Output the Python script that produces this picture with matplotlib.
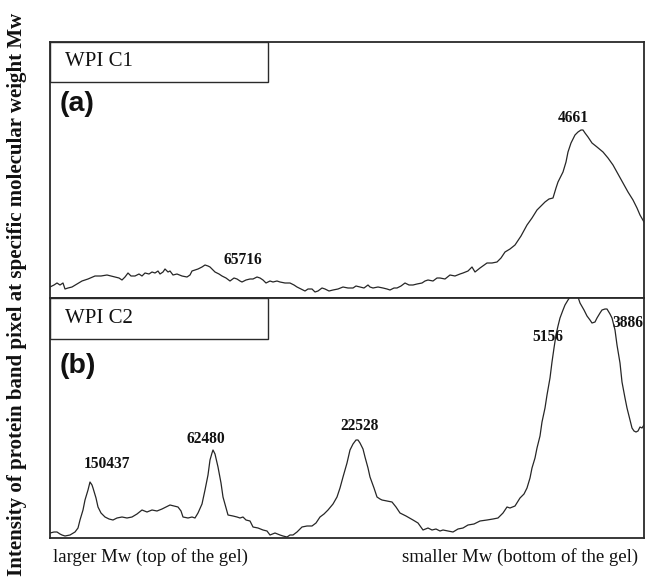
import matplotlib
matplotlib.use("Agg")
import matplotlib.pyplot as plt
from matplotlib.patches import Rectangle

# Densitometric profiles: migration distance along the lane (px) vs pixel intensity
pos_a = [0, 4, 7, 10, 13, 15, 18, 22, 27, 32, 38, 45, 51, 57, 61, 65, 69, 72, 75, 78, 81, 85, 89, 92, 95,
         99, 102, 105, 108, 110, 113, 115, 118, 120, 123, 127, 132, 137, 140, 142, 145, 148, 152, 155,
         158, 160, 163, 165, 169, 172, 176, 180, 184, 187, 190, 192, 196, 200, 203, 207, 210, 213, 216,
         220, 223, 227, 230, 235, 240, 244, 247, 251, 255, 258, 262, 265, 268, 272, 275, 279, 283, 288,
         293, 298, 303, 306, 310, 314, 318, 320, 323, 328, 333, 337, 340, 344, 347, 351, 355, 359, 363,
         367, 372, 375, 378, 383, 387, 390, 395, 400, 405, 410, 413, 418, 422, 425, 430, 437, 442, 447,
         451, 455, 460, 465, 471, 477, 482, 487, 491, 495, 499, 503, 506, 508, 511, 513, 516, 518, 521,
         525, 528, 531, 533, 535, 538, 542, 547, 553, 558, 563, 568, 573, 578, 583, 587, 590, 594]
int_a = [11, 13, 15, 13, 15, 9, 10, 11, 14, 17, 19, 22, 22, 23, 22, 21, 20, 18, 21, 25, 22, 22, 24, 22, 25,
         24, 26, 25, 27, 24, 26, 29, 26, 27, 23, 24, 22, 21, 23, 27, 28, 29, 31, 33,
         32, 31, 28, 26, 24, 22, 20, 17, 20, 19, 17, 16, 18, 19, 19, 21, 20, 18, 15,
         17, 16, 17, 16, 15, 15, 13, 11, 9, 7, 9, 9, 6, 7, 10, 9, 7, 8, 9,
         11, 10, 10, 12, 11, 10, 13, 11, 10, 11, 10, 9, 8, 10, 10, 12, 15, 13, 13,
         14, 15, 17, 18, 17, 20, 20, 19, 23, 22, 24, 25, 27, 31, 26, 30, 35, 35, 36,
         40, 46, 49, 53, 62, 73, 80, 88, 92, 96, 99, 100, 110, 116, 122, 126, 136, 146, 155,
         163, 166, 168, 168, 165, 161, 155, 151, 146, 140, 133, 124, 115, 106, 98, 90, 83, 76]

pos_b = [0, 4, 7, 10, 12, 15, 20, 25, 28, 30, 33, 35, 38, 40, 42, 43, 46, 48, 51, 55, 59, 63, 67, 72,
         77, 82, 87, 92, 97, 102, 107, 112, 116, 120, 124, 128, 131, 133, 138, 142, 145, 148, 152, 155,
         158, 160, 162, 163, 165, 168, 171, 173, 176, 178, 183, 187, 190, 193, 196, 200, 203, 208, 213,
         217, 220, 225, 230, 233, 237, 240, 243, 247, 252, 257, 262, 266, 270, 274, 278, 283, 287, 290,
         293, 297, 300, 303, 306, 308, 310, 313, 315, 318, 320, 324, 327, 330, 332, 337, 342, 346, 350,
         356, 363, 368, 373, 378, 382, 386, 390, 393, 398, 403, 408, 413, 418, 424, 430, 437, 443, 448,
         453, 457, 460, 465, 470, 474, 477, 480, 482, 485, 487, 490, 492, 495, 497, 500, 502, 504, 506,
         508, 510, 513, 515, 518, 520, 525, 528, 530, 534, 537, 540, 542, 545, 547, 550, 552, 555, 557,
         560, 562, 565, 567, 570, 572, 575, 577, 580, 582, 584, 586, 588, 590, 592, 594]
int_b = [5, 6, 6, 4, 3, 2, 3, 6, 10, 18, 28, 38, 48, 56, 53, 50, 40, 31, 25, 21, 19, 18, 20, 21,
         20, 21, 24, 28, 26, 28, 27, 29, 31, 33, 32, 31, 27, 21, 20, 21, 20, 25, 34, 48,
         63, 78, 85, 88, 84, 71, 55, 41, 30, 23, 22, 21, 20, 21, 18, 17, 11, 10, 8,
         7, 3, 5, 3, 2, 1, 3, 3, 6, 11, 12, 12, 15, 21, 24, 28, 34, 41, 50,
         61, 75, 88, 94, 98, 98, 95, 89, 81, 70, 61, 50, 41, 39, 38, 37, 36, 31, 25,
         22, 18, 15, 8, 10, 8, 9, 7, 8, 7, 6, 9, 10, 13, 14, 17, 18, 19, 20,
         25, 31, 30, 32, 40, 44, 50, 60, 70, 80, 90, 102, 116, 130, 143, 160, 176, 190, 203,
         212, 220, 228, 233, 238, 241, 243, 241, 235, 228, 222, 218, 215, 216, 220, 225, 228, 229, 229,
         224, 220, 208, 193, 175, 156, 140, 130, 118, 110, 107, 106, 107, 111, 110, 113]

peaks_a = ["65716", "4661"]
peak_pos_a = [193, 523]
peak_lab_a = [38, 180]
peaks_b = ["150437", "62480", "22528", "5156", "3886"]
peak_pos_b = [57, 156, 310, 498, 578]
peak_lab_b = [74, 99, 112, 201, 215]

W, H = 655, 583
fig = plt.figure(figsize=(W / 100, H / 100), dpi=100)

serif = ["Liberation Serif", "DejaVu Serif"]
sans = ["Liberation Sans", "DejaVu Sans"]

def make_axes(top_px, bot_px):
    ax = fig.add_axes([50 / W, (H - bot_px) / H, (644 - 50) / W, (bot_px - top_px) / H])
    ax.set_xticks([])
    ax.set_yticks([])
    for s in ax.spines.values():
        s.set_color("#2a2a2a")
        s.set_linewidth(1.3)
    return ax

ax_a = make_axes(42, 298)
ax_b = make_axes(298, 538)

ax_a.plot(pos_a, int_a, color="#262626", lw=0.9)
ax_a.set_xlim(0, 594)
ax_a.set_ylim(0, 256)
ax_b.plot(pos_b, int_b, color="#262626", lw=0.9)
ax_b.set_xlim(0, 594)
ax_b.set_ylim(0, 240)

for lab, px, py in zip(peaks_a, peak_pos_a, peak_lab_a):
    ax_a.text(px, py, lab, ha="center", va="center", fontsize=11.2, fontweight="bold",
              family=serif, color="#111111")
for lab, px, py in zip(peaks_b, peak_pos_b, peak_lab_b):
    ax_b.text(px, py, lab, ha="center", va="center", fontsize=11.2, fontweight="bold",
              family=serif, color="#111111", clip_on=False)

def label_box(ax, y0, name, tag, tag_y):
    ax.add_patch(Rectangle((0, y0), 0.367, 1 - y0, transform=ax.transAxes, fill=False,
                           edgecolor="#2a2a2a", lw=1.0, clip_on=False))
    ax.text(0.025, (1 + y0) / 2, name, transform=ax.transAxes, ha="left", va="center",
            fontsize=15, family=serif, color="#111111")
    ax.text(0.016, tag_y, tag, transform=ax.transAxes, ha="left", va="center",
            fontsize=20.5, fontweight="bold", family=sans, color="#111111")

label_box(ax_a, 0.844, "WPI C1", "(a)", 0.758)
label_box(ax_b, 0.828, "WPI C2", "(b)", 0.715)

fig.text(17 / W, 1 - 294 / H, "Intensity of protein band pixel at specific molecular weight Mw",
         rotation=90, ha="center", va="center", fontsize=15, fontweight="bold",
         family=serif, color="#111111")
fig.text(53 / W, 1 - 557 / H, "larger Mw (top of the gel)", ha="left", va="center",
         fontsize=13.5, family=serif, color="#111111")
fig.text(638 / W, 1 - 557 / H, "smaller Mw (bottom of the gel)", ha="right", va="center",
         fontsize=13.5, family=serif, color="#111111")

fig.savefig("out.png", dpi=100)
